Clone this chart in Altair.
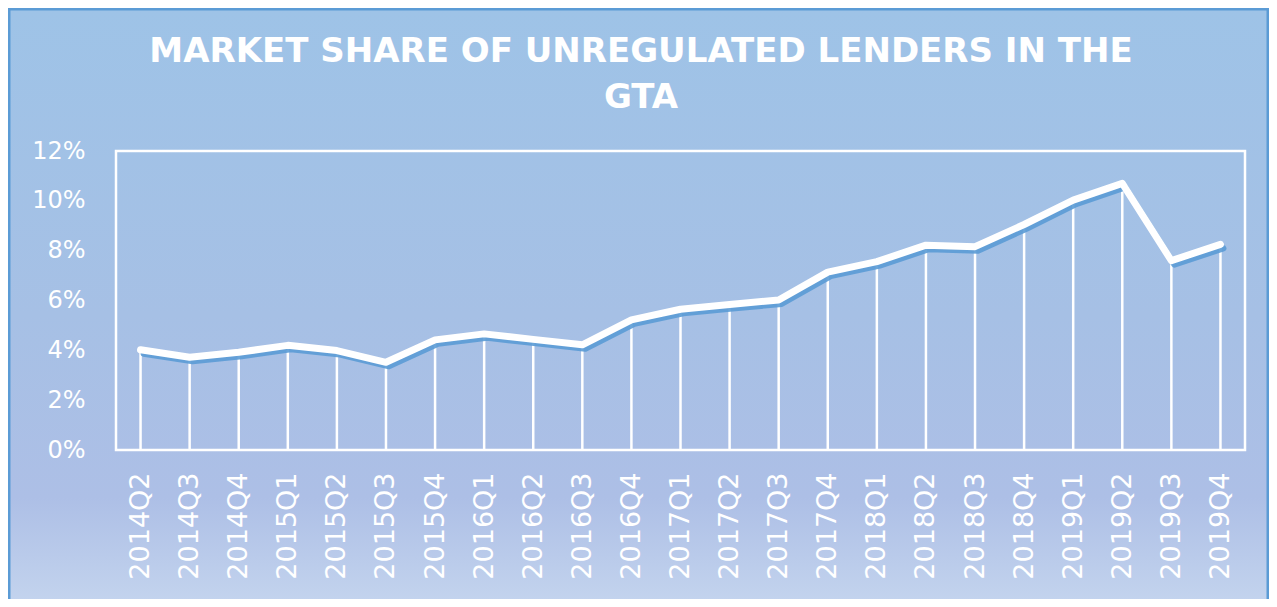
import altair as alt
import pandas as pd

quarters = ["2014Q2", "2014Q3", "2014Q4", "2015Q1", "2015Q2", "2015Q3", "2015Q4",
            "2016Q1", "2016Q2", "2016Q3", "2016Q4", "2017Q1", "2017Q2", "2017Q3",
            "2017Q4", "2018Q1", "2018Q2", "2018Q3", "2018Q4", "2019Q1", "2019Q2",
            "2019Q3", "2019Q4"]
shares_pct = [4.02, 3.72, 3.92, 4.20, 3.99, 3.52, 4.42, 4.66, 4.44, 4.22, 5.22, 5.65,
              5.84, 6.02, 7.14, 7.56, 8.22, 8.16, 9.05, 10.03, 10.70, 7.60, 8.25]
y_ticks = [0, 0.02, 0.04, 0.06, 0.08, 0.10, 0.12]
title_lines = ["MARKET SHARE OF UNREGULATED LENDERS IN THE", "GTA"]

W, H = 1129, 299
PAD = {"left": 108, "top": 143, "right": 24, "bottom": 149}

df = pd.DataFrame({"quarter": quarters, "share": [v / 100 for v in shares_pct]})
one = alt.Data(values=[{"k": 1}])

x_axis = alt.Axis(title=None, labelAngle=-90, labelColor="white", labelFont="DejaVu Sans",
                  labelFontSize=27, labelPadding=22, ticks=False, tickSize=0, domain=False,
                  grid=False, zindex=1, labelOverlap=False)
y_axis = alt.Axis(title=None, values=y_ticks, format=".0%", labelColor="white",
                  labelFont="DejaVu Sans", labelFontSize=24, labelPadding=31, ticks=False,
                  tickSize=0, domain=False, grid=False, zindex=1)

x_enc = alt.X("quarter:N", sort=quarters, scale=alt.Scale(type="point", padding=0.5), axis=x_axis)
y_enc = alt.Y("share:Q", scale=alt.Scale(domain=[0, 0.12], nice=False, zero=True), axis=y_axis)

grad = alt.LinearGradient(
    gradient="linear", x1=0, x2=0, y1=0, y2=1,
    stops=[alt.GradientStop(offset=0, color="#9EC3E7"),
           alt.GradientStop(offset=0.5, color="#A6C0E5"),
           alt.GradientStop(offset=0.8, color="#ADBFE6"),
           alt.GradientStop(offset=1, color="#C7D7EF")])

bg = alt.Chart(one).mark_rect(fill=grad, stroke="#5B9BD5", strokeWidth=3, clip=False).encode(
    x=alt.value(-107), x2=alt.value(W + 23), y=alt.value(-142), y2=alt.value(H + 170))

rules = alt.Chart(df).mark_rule(color="white", strokeWidth=2.5).encode(
    x=x_enc, y=y_enc, y2=alt.datum(0))

shadow = alt.Chart(df).mark_line(color="#5B9BD5", strokeWidth=6, strokeCap="round",
                                 strokeJoin="round", opacity=0.9).encode(
    x=x_enc, y=y_enc, xOffset=alt.value(3), yOffset=alt.value(4))

line = alt.Chart(df).mark_line(color="white", strokeWidth=7, strokeCap="round",
                               strokeJoin="round").encode(x=x_enc, y=y_enc)

frame = alt.Chart(one).mark_rect(fill="transparent", stroke="white", strokeWidth=2.5, clip=False).encode(
    x=alt.value(0), x2=alt.value(W), y=alt.value(0), y2=alt.value(H))

chart = alt.layer(bg, rules, shadow, line, frame).properties(
    width=W, height=H, padding=PAD,
    autosize=alt.AutoSizeParams(type="none"),
    title=alt.TitleParams(text=title_lines, font="DejaVu Sans", fontSize=34, fontWeight="bold",
                          color="white", anchor="middle", frame="group", dx=-39.5,
                          offset=0, dy=141.5, lineHeight=46, baseline="bottom", zindex=1),
).configure(background="#A8C0E4").configure_view(stroke="transparent")

chart.save("out.html", embed_options={"renderer": "svg", "actions": False})
